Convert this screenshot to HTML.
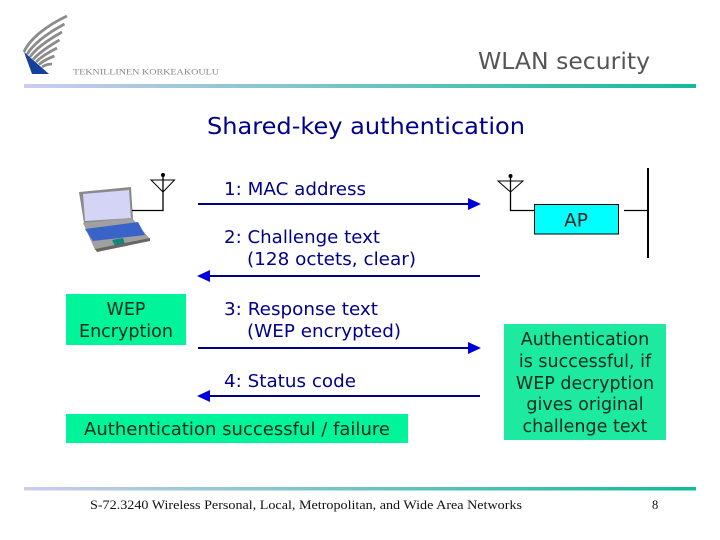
<!DOCTYPE html>
<html><head><meta charset="utf-8"><style>
html,body{margin:0;padding:0;background:#fff}
#s{position:relative;width:720px;height:540px;overflow:hidden;background:#fff}
svg{position:absolute;left:0;top:0}
text{font-family:"DejaVu Sans",sans-serif}
text.r{font-family:"Liberation Serif",serif}
</style></head><body><div id="s">
<svg width="720" height="540" viewBox="0 0 720 540">
<defs><linearGradient id="g" x1="0" x2="1" y1="0" y2="0"><stop offset="0" stop-color="#ccccf0"/><stop offset="1" stop-color="#12bb99"/></linearGradient></defs>
<!-- logo -->
<g fill="none" stroke="#8c8c8c" stroke-width="2.8">
<path d="M24 52C30 38 48 25 67 16"/><path d="M27 54.500C33 44 48 33 64.500 24"/><path d="M30 57C36 48 48 40 62 32"/><path d="M33 59.500C39 53 49 46 59.500 40"/><path d="M36 62C41 57 49 52 57 48"/><path d="M39 64.500C43 61 49 58 54.500 56"/><path d="M42 67C45 65 49 64 52 64"/>
</g>
<path d="M24 52L49 74H32Z" fill="#15409c"/>
<text class="r" x="73" y="74.500" font-size="8.500" fill="#888" textLength="146" lengthAdjust="spacingAndGlyphs">TEKNILLINEN KORKEAKOULU</text>
<rect x="24" y="84" width="672" height="4" fill="url(#g)"/>
<rect x="17" y="487" width="679" height="3.500" fill="url(#g)" style="display:none"/>
<rect x="24" y="487" width="672" height="3.500" fill="url(#g)"/>
<text x="478" y="69" font-size="23" fill="#555" textLength="172" lengthAdjust="spacingAndGlyphs">WLAN security</text>
<text x="207" y="134" font-size="23" fill="#00008b" textLength="318" lengthAdjust="spacingAndGlyphs">Shared-key authentication</text>
<!-- laptop -->
<path d="M79 192L131 187L133 219L84 223Z" fill="#8a8a8a"/>
<path d="M83 194L129 190L131 218L85 221Z" fill="#d4d4f6"/>
<path d="M83 223L132 218L150 239L95 250Z" fill="#a0a0a0"/>
<path d="M85 229L138 222L145 235L93 241Z" fill="#3a63c8"/>
<path d="M112 240L123 238L125 244L115 246Z" fill="#118877"/>
<path d="M95 249L150 238L150 241L97 252Z" fill="#666"/>
<!-- antennas and bus -->
<g stroke="#000" fill="none" stroke-width="1">
<path d="M151 180H174.500L163 192Z"/><path d="M163 175V210.500H132" stroke-width="1.300"/>
<path d="M498 181H523L510.500 192Z"/><path d="M510.500 176V210.500H534" stroke-width="1.300"/>
<path d="M624 210.500H648" stroke-width="1.300"/>
<path d="M648 168V258" stroke-width="2"/>
</g>
<circle cx="163" cy="175" r="2" fill="#000"/><circle cx="510.500" cy="176" r="2" fill="#000"/>
<!-- arrows -->
<g stroke="#000088" stroke-width="2" fill="none">
<path d="M198 204H470"/><path d="M208 276H480"/><path d="M198 348H470"/><path d="M208 396H480"/>
</g>
<g fill="#0000dd">
<path d="M481 204L468 198V210Z"/><path d="M197 276L210 270V282Z"/><path d="M481 348L468 342V354Z"/><path d="M197 396L210 390V402Z"/>
</g>
<!-- boxes -->
<rect x="534.500" y="204.500" width="84" height="29.500" fill="#00ffff" stroke="#000" stroke-width="1"/>
<text x="576" y="226.500" font-size="18.500" text-anchor="middle" fill="#222">AP</text>
<rect x="66" y="294" width="120" height="51" fill="#00f59b"/>
<rect x="66" y="414" width="342" height="29" fill="#00f59b"/>
<rect x="504" y="324" width="162" height="116" fill="#1de9a0"/>
<g font-size="17.500" fill="#00008b">
<text x="224" y="195" textLength="142" lengthAdjust="spacingAndGlyphs">1: MAC address</text>
<text x="224" y="243" textLength="156" lengthAdjust="spacingAndGlyphs">2: Challenge text</text>
<text x="247" y="265" textLength="169" lengthAdjust="spacingAndGlyphs">(128 octets, clear)</text>
<text x="224" y="315" textLength="154" lengthAdjust="spacingAndGlyphs">3: Response text</text>
<text x="247" y="337" textLength="154" lengthAdjust="spacingAndGlyphs">(WEP encrypted)</text>
<text x="224" y="387" textLength="132" lengthAdjust="spacingAndGlyphs">4: Status code</text>
</g>
<g font-size="17.500" fill="#0c2a1c">
<text x="84" y="435" textLength="306" lengthAdjust="spacingAndGlyphs">Authentication successful / failure</text>
<g text-anchor="middle">
<text x="126" y="315">WEP</text>
<text x="126" y="337">Encryption</text>
<text x="585" y="345">Authentication</text>
<text x="585" y="367">is successful, if</text>
<text x="585" y="389">WEP decryption</text>
<text x="585" y="410">gives original</text>
<text x="585" y="432">challenge text</text>
</g></g>
<g fill="#111">
<text class="r" x="90" y="509" font-size="12.500" textLength="432" lengthAdjust="spacingAndGlyphs">S-72.3240 Wireless Personal, Local, Metropolitan, and Wide Area Networks</text>
<text class="r" x="652" y="509" font-size="12.500">8</text>
</g>
</svg>
</div></body></html>
